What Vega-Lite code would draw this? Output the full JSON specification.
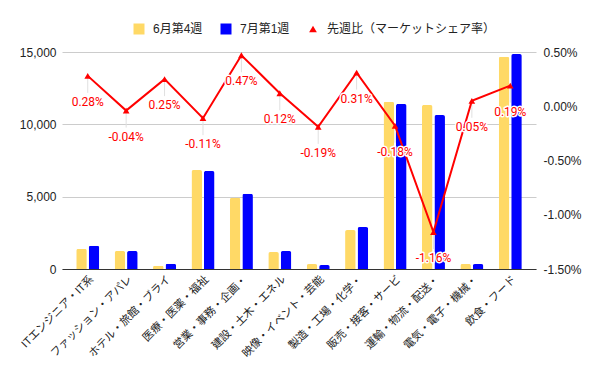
{
  "$schema": "https://vega.github.io/schema/vega-lite/v6.json",
  "width": 474,
  "height": 217,
  "autosize": {"type": "none"},
  "padding": {"left": 62, "top": 52, "right": 64, "bottom": 102},
  "config": {
    "font": "Liberation Sans, Noto Sans CJK JP",
    "view": {"stroke": null},
    "axis": {"labelFont": "Liberation Sans, Noto Sans CJK JP", "labelColor": "#222222", "labelFontSize": 12, "ticks": false, "title": null}
  },
  "datasets": {
    "bars": [
      {"category": "ITエンジニア・IT系", "week": "6月第4週", "count": 1390},
      {"category": "ITエンジニア・IT系", "week": "7月第1週", "count": 1610},
      {"category": "ファッション・アパレ", "week": "6月第4週", "count": 1245},
      {"category": "ファッション・アパレ", "week": "7月第1週", "count": 1245},
      {"category": "ホテル・旅館・ブライ", "week": "6月第4週", "count": 220},
      {"category": "ホテル・旅館・ブライ", "week": "7月第1週", "count": 370},
      {"category": "医療・医薬・福祉", "week": "6月第4週", "count": 6840},
      {"category": "医療・医薬・福祉", "week": "7月第1週", "count": 6770},
      {"category": "営業・事務・企画・", "week": "6月第4週", "count": 4930},
      {"category": "営業・事務・企画・", "week": "7月第1週", "count": 5200},
      {"category": "建設・土木・エネル", "week": "6月第4週", "count": 1175},
      {"category": "建設・土木・エネル", "week": "7月第1週", "count": 1245},
      {"category": "映像・イベント・芸能", "week": "6月第4週", "count": 345},
      {"category": "映像・イベント・芸能", "week": "7月第1週", "count": 276},
      {"category": "製造・工場・化学・", "week": "6月第4週", "count": 2695},
      {"category": "製造・工場・化学・", "week": "7月第1週", "count": 2900},
      {"category": "販売・接客・サービ", "week": "6月第4週", "count": 11560},
      {"category": "販売・接客・サービ", "week": "7月第1週", "count": 11400},
      {"category": "運輸・物流・配送・", "week": "6月第4週", "count": 11330},
      {"category": "運輸・物流・配送・", "week": "7月第1週", "count": 10640},
      {"category": "電気・電子・機械・", "week": "6月第4週", "count": 350},
      {"category": "電気・電子・機械・", "week": "7月第1週", "count": 340},
      {"category": "飲食・フード", "week": "6月第4週", "count": 14670},
      {"category": "飲食・フード", "week": "7月第1週", "count": 14860}
    ],
    "share": [
      {"category": "ITエンジニア・IT系", "share": 0.0028},
      {"category": "ファッション・アパレ", "share": -0.0004},
      {"category": "ホテル・旅館・ブライ", "share": 0.0025},
      {"category": "医療・医薬・福祉", "share": -0.0011},
      {"category": "営業・事務・企画・", "share": 0.0047},
      {"category": "建設・土木・エネル", "share": 0.0012},
      {"category": "映像・イベント・芸能", "share": -0.0019},
      {"category": "製造・工場・化学・", "share": 0.0031},
      {"category": "販売・接客・サービ", "share": -0.0018},
      {"category": "運輸・物流・配送・", "share": -0.0116},
      {"category": "電気・電子・機械・", "share": 0.0005},
      {"category": "飲食・フード", "share": 0.0019}
    ]
  },
  "layer": [
    {
      "data": {"name": "bars"},
      "mark": {"type": "bar", "cornerRadiusTopLeft": 2, "cornerRadiusTopRight": 2},
      "encoding": {
        "x": {
          "field": "category", "type": "nominal", "sort": null,
          "scale": {"paddingInner": 0.4, "paddingOuter": 0.37},
          "axis": {"labelAngle": -45, "labelFontSize": 11, "labelPadding": 4, "labelLimit": 200, "domainColor": "#333333", "grid": false, "zindex": 1}
        },
        "xOffset": {"field": "week", "type": "nominal", "sort": null, "scale": {"paddingInner": 0.15, "paddingOuter": 0}},
        "y": {
          "field": "count", "type": "quantitative",
          "scale": {"domain": [0, 15000], "nice": false},
          "axis": {"orient": "left", "values": [0, 5000, 10000, 15000], "format": ",.0f", "domain": false, "grid": true, "gridColor": "#cccccc", "labelPadding": 6}
        },
        "color": {
          "field": "week", "type": "nominal",
          "scale": {"domain": ["6月第4週", "7月第1週", "先週比（マーケットシェア率）"], "range": ["#ffd966", "#0000ff", "#ff0000"]},
          "legend": {
            "orient": "none", "legendX": 71, "legendY": -29, "direction": "horizontal", "title": null,
            "symbolType": "square", "symbolSize": 121, "symbolStrokeWidth": 0,
            "labelFontSize": 12, "labelColor": "#222222", "labelOffset": 8, "columnPadding": 17, "padding": 0, "labelLimit": 400,
            "encode": {"symbols": {"update": {"shape": {"signal": "datum.label == '先週比（マーケットシェア率）' ? 'triangle-up' : 'square'"}, "size": {"signal": "datum.label == '先週比（マーケットシェア率）' ? 60 : 121"}}}}
          }
        }
      }
    },
    {
      "data": {"name": "share"},
      "transform": [{"calculate": "replace(format(datum.share, '.2%'), '\u2212', '-')", "as": "lbl"}],
      "encoding": {
        "x": {"field": "category", "type": "nominal", "sort": null},
        "y": {
          "field": "share", "type": "quantitative",
          "scale": {"domain": [-0.015, 0.005], "nice": false},
          "axis": {"orient": "right", "values": [-0.015, -0.01, -0.005, 0, 0.005], "labelExpr": "replace(format(datum.value, '.2%'), '\u2212', '-')", "domain": false, "grid": false, "labelPadding": 7}
        }
      },
      "layer": [
        {"mark": {"type": "rule", "color": "#e0e0e0", "strokeWidth": 1, "yOffset": 2, "y2Offset": 17}, "encoding": {"y2": {"field": "share"}}},
        {"mark": {"type": "line", "color": "#ff0000", "strokeWidth": 2}},
        {"mark": {"type": "point", "shape": "triangle-up", "filled": true, "color": "#ff0000", "size": 45, "opacity": 1}},
        {"mark": {"type": "text", "dy": 26, "font": "Roboto", "fontSize": 12, "stroke": "#ffffff", "strokeWidth": 3, "strokeJoin": "round", "fill": "#ffffff"}, "encoding": {"text": {"field": "lbl"}}},
        {"mark": {"type": "text", "dy": 26, "font": "Roboto", "fontSize": 12, "fill": "#ff0000"}, "encoding": {"text": {"field": "lbl"}}}
      ]
    }
  ],
  "resolve": {"scale": {"y": "independent"}}
}
